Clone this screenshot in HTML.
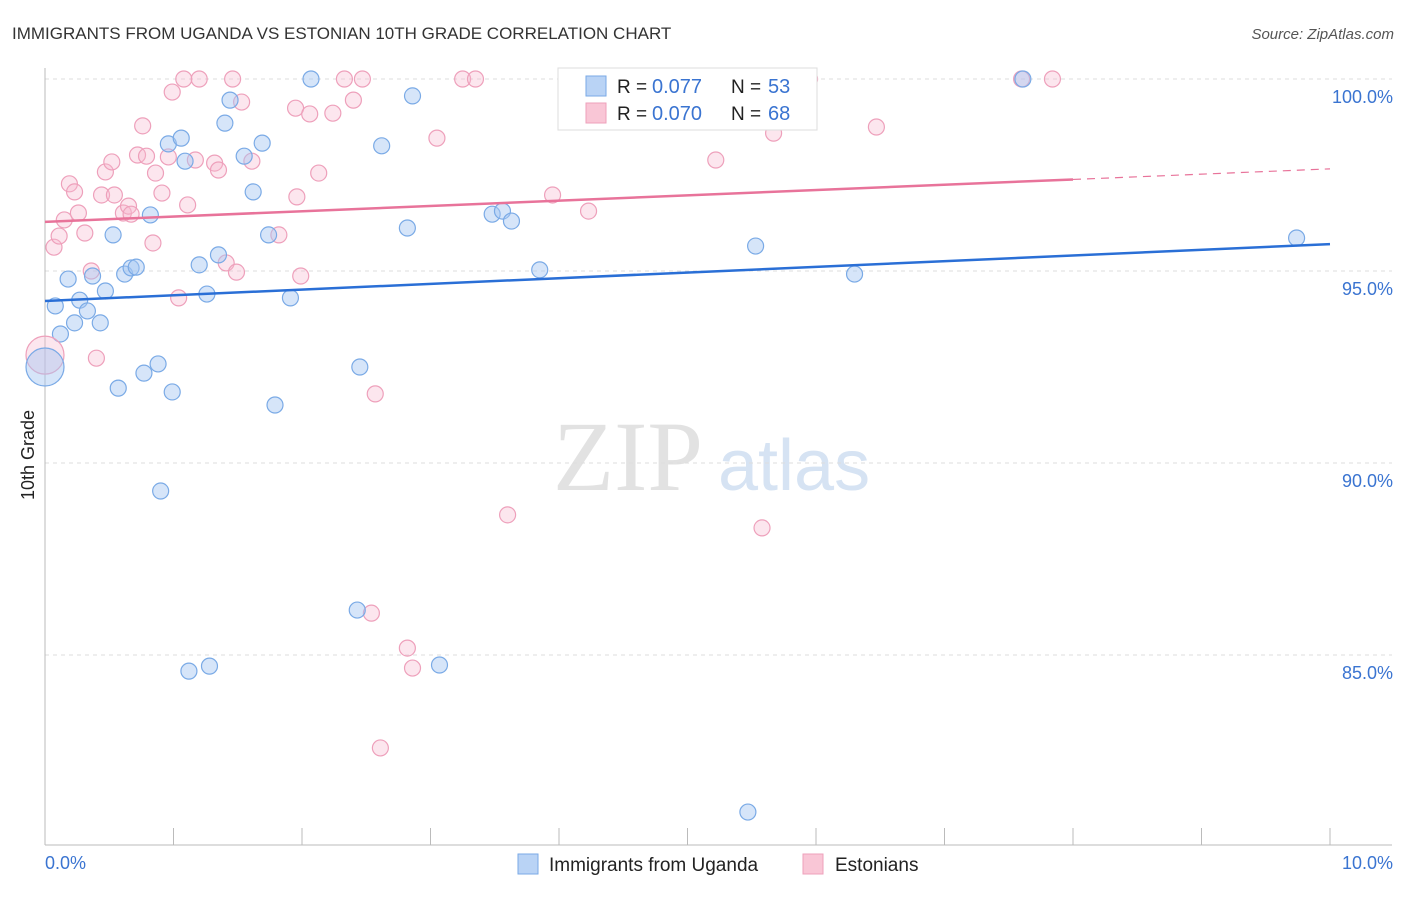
<!DOCTYPE html>
<html><head><meta charset="utf-8"><style>
body{margin:0;background:#fff;font-family:"Liberation Sans",sans-serif;}
</style></head><body>
<svg width="1406" height="892" viewBox="0 0 1406 892" font-family="Liberation Sans, sans-serif">
<text x="12" y="39" font-size="17" fill="#333">IMMIGRANTS FROM UGANDA VS ESTONIAN 10TH GRADE CORRELATION CHART</text>
<text x="1394" y="39" font-size="15" fill="#555" font-style="italic" text-anchor="end">Source: ZipAtlas.com</text>
<text x="553" y="490" font-size="100" fill="#e2e2e2" style="font-family:'Liberation Serif',serif">ZIP</text>
<text x="718" y="490" font-size="72" fill="#d6e3f3">atlas</text>
<g id="grid"></g>
<g id="axes"></g>
<g id="pts"></g>
<g id="lines"></g>
<text x="34" y="455" font-size="18" fill="#222" transform="rotate(-90 34 455)" text-anchor="middle">10th Grade</text>
<g>
<rect x="558" y="68" width="259" height="62" fill="#fff" stroke="#ddd"/>
<rect x="586" y="76" width="20" height="20" fill="#b9d3f5" stroke="#7aaae6"/>
<text x="617" y="93" font-size="19" fill="#222">R =</text>
<text x="652" y="93" font-size="20" fill="#3a74d1">0.077</text>
<text x="731" y="93" font-size="19" fill="#222">N =</text>
<text x="768" y="93" font-size="20" fill="#3a74d1">53</text>
<rect x="586" y="103" width="20" height="20" fill="#f9c6d6" stroke="#eea0bb"/>
<text x="617" y="120" font-size="19" fill="#222">R =</text>
<text x="652" y="120" font-size="20" fill="#3a74d1">0.070</text>
<text x="731" y="120" font-size="19" fill="#222">N =</text>
<text x="768" y="120" font-size="20" fill="#3a74d1">68</text>
</g>
<g>
<rect x="518" y="854" width="20" height="20" fill="#b9d3f5" stroke="#7aaae6"/>
<text x="549" y="871" font-size="19" fill="#222">Immigrants from Uganda</text>
<rect x="803" y="854" width="20" height="20" fill="#f9c6d6" stroke="#eea0bb"/>
<text x="835" y="871" font-size="19" fill="#222">Estonians</text>
</g>
</svg>
<script>
const blueX=[0.08,0.18,0.12,0.27,0.23,0.33,0.37,0.43,0.47,0.53,0.62,0.67,0.71,0.57,0.77,0.82,0.88,0.90,0.96,0.99,1.06,1.09,1.12,1.20,1.26,1.28,1.35,1.40,1.44,1.55,1.62,1.69,1.74,1.79,1.91,2.07,2.43,2.45,2.62,2.82,2.86,3.07,3.48,3.56,3.63,3.85,5.47,5.53,6.30,7.61,9.74];
const blueY=[94.09,94.79,93.36,94.24,93.65,93.96,94.87,93.65,94.48,95.94,94.92,95.08,95.10,91.95,92.34,96.46,92.58,89.27,98.31,91.85,98.46,97.86,84.58,95.16,94.40,84.71,95.42,98.85,99.45,97.99,97.06,98.33,95.94,91.51,94.30,100,86.17,92.5,98.26,96.12,99.56,84.74,96.48,96.56,96.30,95.03,80.91,95.65,94.92,100,95.86];
const pinkX=[0.07,0.11,0.15,0.19,0.23,0.26,0.31,0.36,0.40,0.44,0.47,0.52,0.54,0.61,0.65,0.67,0.72,0.76,0.79,0.84,0.86,0.91,0.96,0.99,1.04,1.08,1.11,1.17,1.20,1.32,1.35,1.41,1.46,1.49,1.53,1.61,1.82,1.96,1.95,1.99,2.06,2.13,2.24,2.33,2.40,2.47,2.54,2.57,2.61,2.82,2.86,3.05,3.25,3.35,3.60,3.95,4.10,4.23,5.22,5.58,5.67,5.95,6.47,7.60,7.84];
const pinkY=[95.62,95.91,96.33,97.27,97.06,96.51,95.99,95.0,92.73,96.98,97.58,97.84,96.98,96.51,96.69,96.48,98.02,98.78,97.99,95.73,97.55,97.03,97.97,99.66,94.30,100,96.72,97.89,100,97.81,97.63,95.21,100,94.97,99.4,97.86,95.94,96.93,99.24,94.87,99.09,97.55,99.11,100,99.45,100,86.09,91.8,82.58,85.18,84.66,98.46,100,100,88.65,96.98,100,96.56,97.89,88.31,98.59,100,98.75,100,100];
const bigBlue=[0,92.5], bigPink=[0,92.81];
const blueLine=[94.22,95.70], pinkLine=[96.28,97.66], pinkSolidEnd=8;
const yTicks=[100,95,90,85], yTickLabels=["100.0%","95.0%","90.0%","85.0%"];
const xTicks=[0,1,2,3,4,5,6,7,8,9,10];
const NS="http://www.w3.org/2000/svg";
const X=v=>45+v*128.5, Y=v=>79+(100-v)*38.4;
function mk(p,tag,a){const e=document.createElementNS(NS,tag);for(const k in a)e.setAttribute(k,a[k]);document.getElementById(p).appendChild(e);return e;}
yTicks.forEach((t,i)=>{
 const l=mk('grid','line',{x1:45,x2:1392,y1:Y(t),y2:Y(t),stroke:'#ddd','stroke-dasharray':'4,4'});
 
 
 const tx=mk('grid','text',{x:1393,y:Y(t)+24,'font-size':18,fill:'#3a74d1','text-anchor':'end'});
 tx.textContent=yTickLabels[i];
 
 
});
const ax=mk('axes','line',{x1:45,x2:45,y1:68,y2:845,stroke:'#bbb'});


const bx=mk('axes','line',{x1:45,x2:1392,y1:845,y2:845,stroke:'#bbb'});


xTicks.forEach(t=>{const l=mk('axes','line',{x1:X(t),x2:X(t),y1:828,y2:845,stroke:'#bbb'});
 
 });
const x0=mk('axes','text',{x:45,y:869,'font-size':18,fill:'#3a74d1'});x0.textContent='0.0%';


const x1=mk('axes','text',{x:1393,y:869,'font-size':18,fill:'#3a74d1','text-anchor':'end'});x1.textContent='10.0%';


function dot(x,y,r,blue,name){const c=mk('pts','circle',{cx:X(x),cy:Y(y),r:r,fill:blue?'rgba(164,198,242,0.45)':'rgba(246,184,206,0.35)',stroke:blue?'#7aaae6':'#eea0bb','stroke-width':1.2});
 
 }
pinkX.forEach((x,i)=>dot(x,pinkY[i],8,false,'estonians-point'));
blueX.forEach((x,i)=>dot(x,blueY[i],8,true,'uganda-point'));
dot(bigPink[0],bigPink[1],19,false,'estonians-point-large');
dot(bigBlue[0],bigBlue[1],19,true,'uganda-point-large');
const bl=mk('lines','line',{x1:X(0),y1:Y(blueLine[0]),x2:X(10),y2:Y(blueLine[1]),stroke:'#2a6fd6','stroke-width':2.5});


const pAt=x=>pinkLine[0]+(pinkLine[1]-pinkLine[0])*x/10;
const pl=mk('lines','line',{x1:X(0),y1:Y(pinkLine[0]),x2:X(pinkSolidEnd),y2:Y(pAt(pinkSolidEnd)),stroke:'#e8739a','stroke-width':2.5});


const pd=mk('lines','line',{x1:X(pinkSolidEnd),y1:Y(pAt(pinkSolidEnd)),x2:X(10),y2:Y(pinkLine[1]),stroke:'#e8739a','stroke-width':1.2,'stroke-dasharray':'8,6'});


</script>
</body></html>
